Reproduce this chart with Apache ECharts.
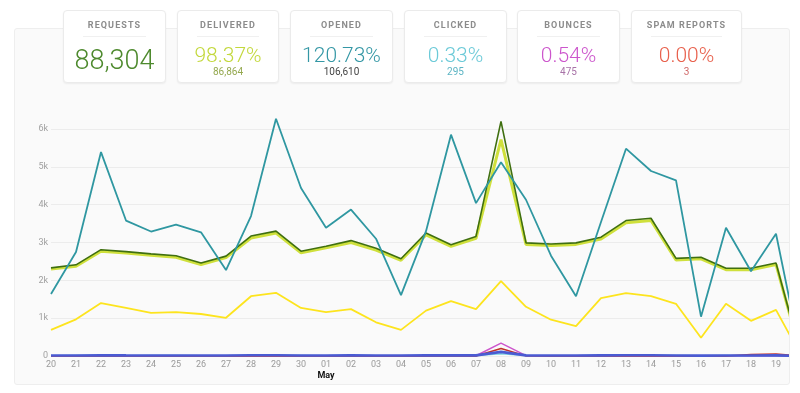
<!DOCTYPE html>
<html>
<head>
<meta charset="utf-8">
<script src="https://cdn.jsdelivr.net/npm/echarts@6/dist/echarts.min.js"></script>
<style>
  html, body { margin:0; padding:0; width:800px; height:393px; background:#fff; overflow:hidden; font-family: Roboto, "Open Sans", sans-serif; }
  #panel { position:absolute; left:14px; top:28px; width:776px; height:357px; box-sizing:border-box; border:1px solid #eeeeee; border-radius:3px; background:#fafafa; overflow:hidden; }
  #chart { position:absolute; left:-15px; top:-29px; width:820px; height:393px; }
  .card { position:absolute; top:10px; height:73px; box-sizing:border-box; background:#fff; border:1px solid #ebebeb; border-radius:4px; box-shadow:0 1px 2px rgba(0,0,0,0.06); text-align:center; z-index:5; }
  .card .t { position:absolute; left:0; right:0; top:9px; font-size:9px; font-weight:700; letter-spacing:1.1px; color:#8c8c8c; }
  .card .sep { position:absolute; left:19px; right:19px; top:25px; border-top:1px solid #f0f0f0; }
  .card .big { position:absolute; left:0; right:0; top:32px; font-size:21px; font-weight:300; line-height:24px; }
  .card .big.solo { top:34px; font-size:27px; line-height:30px; }
  .card .sub { position:absolute; left:0; right:0; top:55px; font-size:10px; line-height:12px; }
</style>
</head>
<body>
<div id="cards"></div>
<div id="panel"><div id="chart"></div></div>
<script>
// ---- data ----
const dayLabels = ['20','21','22','23','24','25','26','27','28','29','30','01','02','03','04','05','06','07','08','09','10','11','12','13','14','15','16','17','18','19',''];
const monthLabelIndex = 11;
const monthLabel = 'May';

const requests  = [2330,2410,2810,2760,2700,2650,2460,2640,3170,3300,2770,2900,3050,2850,2570,3250,2940,3160,6200,2990,2960,2990,3140,3580,3640,2580,2610,2320,2320,2460,20];
const delivered = [2300,2370,2770,2720,2660,2610,2420,2600,3120,3250,2730,2860,3000,2800,2530,3200,2900,3110,5720,2950,2920,2950,3090,3520,3580,2540,2570,2280,2280,2420,15];
const opened    = [1640,2750,5390,3580,3290,3470,3270,2270,3700,6270,4440,3390,3870,3100,1610,3300,5850,4040,5120,4130,2650,1580,3540,5480,4890,4640,1040,3390,2240,3230,10];
const uniqueOpens = [690,970,1400,1270,1140,1160,1110,1010,1580,1670,1270,1160,1240,890,690,1200,1450,1240,1980,1300,960,790,1530,1660,1580,1380,480,1380,930,1220,10];
const clicked   = [8,10,12,9,11,10,9,8,12,13,10,9,11,9,7,12,30,10,60,10,9,8,11,12,11,10,6,10,9,10,0];
const bounces   = [5,5,6,5,5,5,5,5,6,6,5,5,5,5,4,6,8,6,340,8,5,5,5,6,6,5,4,5,6,6,0];
const blocks    = [2,2,3,2,2,2,2,2,3,3,2,2,2,2,2,3,3,2,200,4,2,2,2,3,3,2,2,3,40,50,0];
const unsubscribes = [15,15,18,16,15,15,14,14,18,18,15,15,16,15,12,16,20,16,110,16,14,13,16,18,18,15,10,15,15,16,0];

const yTicks = [0,1000,2000,3000,4000,5000,6000];

const cardTitles = ['REQUESTS','DELIVERED','OPENED','CLICKED','BOUNCES','SPAM REPORTS'];
const cardValues = ['88,304','98.37%','120.73%','0.33%','0.54%','0.00%'];
const cardSubs   = ['','86,864','106,610','295','475','3'];

// ---- cards ----
const cardLeft  = [63,177,290,404,517,631];
const cardWidth = [103,102,103,103,103,111];
const cardColor = ['#4e8a2e','#c3d83c','#3497a5','#6ccad8','#cc55cc','#e8604c'];
const subColor  = ['#000','#94a84e','#444444','#5db5c4','#a772a7','#d06a6a'];
const cards = document.getElementById('cards');
cardTitles.forEach((t,i)=>{
  const d = document.createElement('div');
  d.className='card';
  d.style.left = cardLeft[i]+'px';
  d.style.width = cardWidth[i]+'px';
  d.innerHTML = '<div class="t">'+t+'</div><div class="sep"></div>' +
    '<div class="big'+(cardSubs[i]===''?' solo':'')+'" style="color:'+cardColor[i]+'">'+cardValues[i]+'</div>' +
    (cardSubs[i]!=='' ? '<div class="sub" style="color:'+subColor[i]+'">'+cardSubs[i]+'</div>' : '');
  cards.appendChild(d);
});

// ---- chart ----
const chart = echarts.init(document.getElementById('chart'), null, {renderer:'canvas'});
const pts = arr => arr.map((v,i)=>[i,v]);
function line(name, arr, color, width, z){
  return { name, type:'line', data:pts(arr), showSymbol:false, symbol:'none', clip:false, z:z,
    lineStyle:{color, width}, itemStyle:{color}, animation:false };
}
chart.setOption({
  animation:false,
  grid:{ left:51, right:19, top:129, bottom:37 },
  xAxis:{
    type:'value', min:0, max:30, interval:1,
    axisLine:{show:false}, axisTick:{show:false}, splitLine:{show:false},
    axisLabel:{
      margin:4, color:'#9a9a9a', fontSize:9, fontFamily:'Roboto',
      formatter: v => v===monthLabelIndex ? dayLabels[v]+'\n{m|'+monthLabel+'}' : dayLabels[v],
      rich:{ m:{ color:'#111', fontWeight:'bold', fontSize:9, fontFamily:'Roboto', lineHeight:11 } },
      lineHeight:10
    }
  },
  yAxis:{
    type:'value', min:0, max:6000, interval:1000,
    axisLine:{show:false}, axisTick:{show:false},
    splitLine:{ lineStyle:{ color:'#ececec', width:1 } },
    axisLabel:{ margin:3, color:'#a0a0a0', fontSize:9, fontFamily:'Roboto',
      formatter: v => yTicks.indexOf(v)>=0 ? (v===0?'0':(v/1000)+'k') : '' }
  },
  series:[
    line('Delivered', delivered, '#cfe03c', 3, 2),
    line('Requests', requests, '#3f6f10', 1.6, 3),
    line('Opened', opened, '#2f97a1', 1.8, 4),
    line('Unique opens', uniqueOpens, '#fde41e', 1.8, 1),
    line('Clicked', clicked, '#7fd3e0', 1.5, 5),
    line('Bounces', bounces, '#cc55cc', 1.5, 6),
    line('Blocks', blocks, '#c0302a', 1.5, 7),
    line('Unsubscribes', unsubscribes, '#4a5bd3', 2.6, 8)
  ]
});
</script>
</body>
</html>
